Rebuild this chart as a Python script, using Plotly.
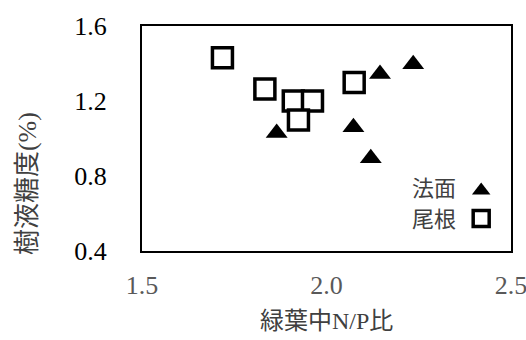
import plotly.graph_objects as go

# 法面 (slope) samples
slope_np = [1.865, 2.145, 2.235, 2.073, 2.120]
slope_sugar = [1.029, 1.344, 1.396, 1.060, 0.894]

# 尾根 (ridge) samples
ridge_np = [1.718, 1.833, 1.910, 1.962, 1.924, 2.075]
ridge_sugar = [1.431, 1.264, 1.200, 1.200, 1.099, 1.298]

x_ticks = [1.5, 2.0, 2.5]
x_ticklabels = ["1.5", "2.0", "2.5"]
y_ticks = [0.4, 0.8, 1.2, 1.6]
y_ticklabels = ["0.4", "0.8", "1.2", "1.6"]

FONT = "Times New Roman, Liberation Serif, DejaVu Serif, serif"
CJK_FONT = "Times New Roman, Liberation Serif, Noto Sans CJK JP"

fig = go.Figure()
fig.add_trace(go.Scatter(
    x=slope_np, y=slope_sugar, mode="markers", name="法面", legendgroup="a",
    marker=dict(symbol="triangle-up", size=19, color="black", line=dict(width=0)),
))
fig.add_trace(go.Scatter(
    x=ridge_np, y=ridge_sugar, mode="markers", name="尾根", legendgroup="b",
    marker=dict(symbol="square", size=20, color="white", line=dict(width=3.5, color="black")),
))

fig.update_layout(
    width=526, height=340,
    margin=dict(l=142, r=15, t=26, b=89, autoexpand=False),
    paper_bgcolor="white", plot_bgcolor="white",
    font=dict(family=FONT, size=24, color="black"),
    showlegend=True,
    legend=dict(
        x=0.865, y=0.333, xanchor="left", yanchor="top",
        font=dict(size=1, color="rgba(0,0,0,0)"),
        bgcolor="rgba(0,0,0,0)", tracegroupgap=9, itemsizing="trace",
    ),
    xaxis=dict(
        range=[1.5, 2.5], tickvals=x_ticks, ticktext=x_ticklabels,
        showgrid=False, zeroline=False, ticks="",
        showline=True, mirror=True, linecolor="black", linewidth=2,
        tickfont=dict(family=FONT, size=26, color="#595959"),
        ticklabelstandoff=10, ticklabeloverflow="allow",
    ),
    yaxis=dict(
        range=[0.4, 1.6], tickvals=y_ticks, ticktext=y_ticklabels,
        showgrid=False, zeroline=False, ticks="",
        showline=True, mirror=True, linecolor="black", linewidth=2,
        tickfont=dict(family=FONT, size=26, color="black"),
        ticklabelstandoff=28,
    ),
    annotations=[
        dict(text="緑葉中N/P比", xref="paper", yref="paper", x=0.5, y=-0.31,
             xanchor="center", yanchor="middle", showarrow=False,
             font=dict(family=CJK_FONT, size=24, color="#404040")),
        dict(text="樹液糖度(%)", xref="paper", yref="paper", x=-0.31, y=0.30,
             xanchor="center", yanchor="middle", showarrow=False, textangle=-90,
             font=dict(family=CJK_FONT, size=26, color="#404040")),
        dict(text="法面", xref="paper", yref="paper", x=0.856, y=0.276,
             xanchor="right", yanchor="middle", showarrow=False,
             font=dict(family=CJK_FONT, size=22, color="#404040")),
        dict(text="尾根", xref="paper", yref="paper", x=0.856, y=0.142,
             xanchor="right", yanchor="middle", showarrow=False,
             font=dict(family=CJK_FONT, size=22, color="#404040")),
    ],
)

fig.write_html("out.html")
